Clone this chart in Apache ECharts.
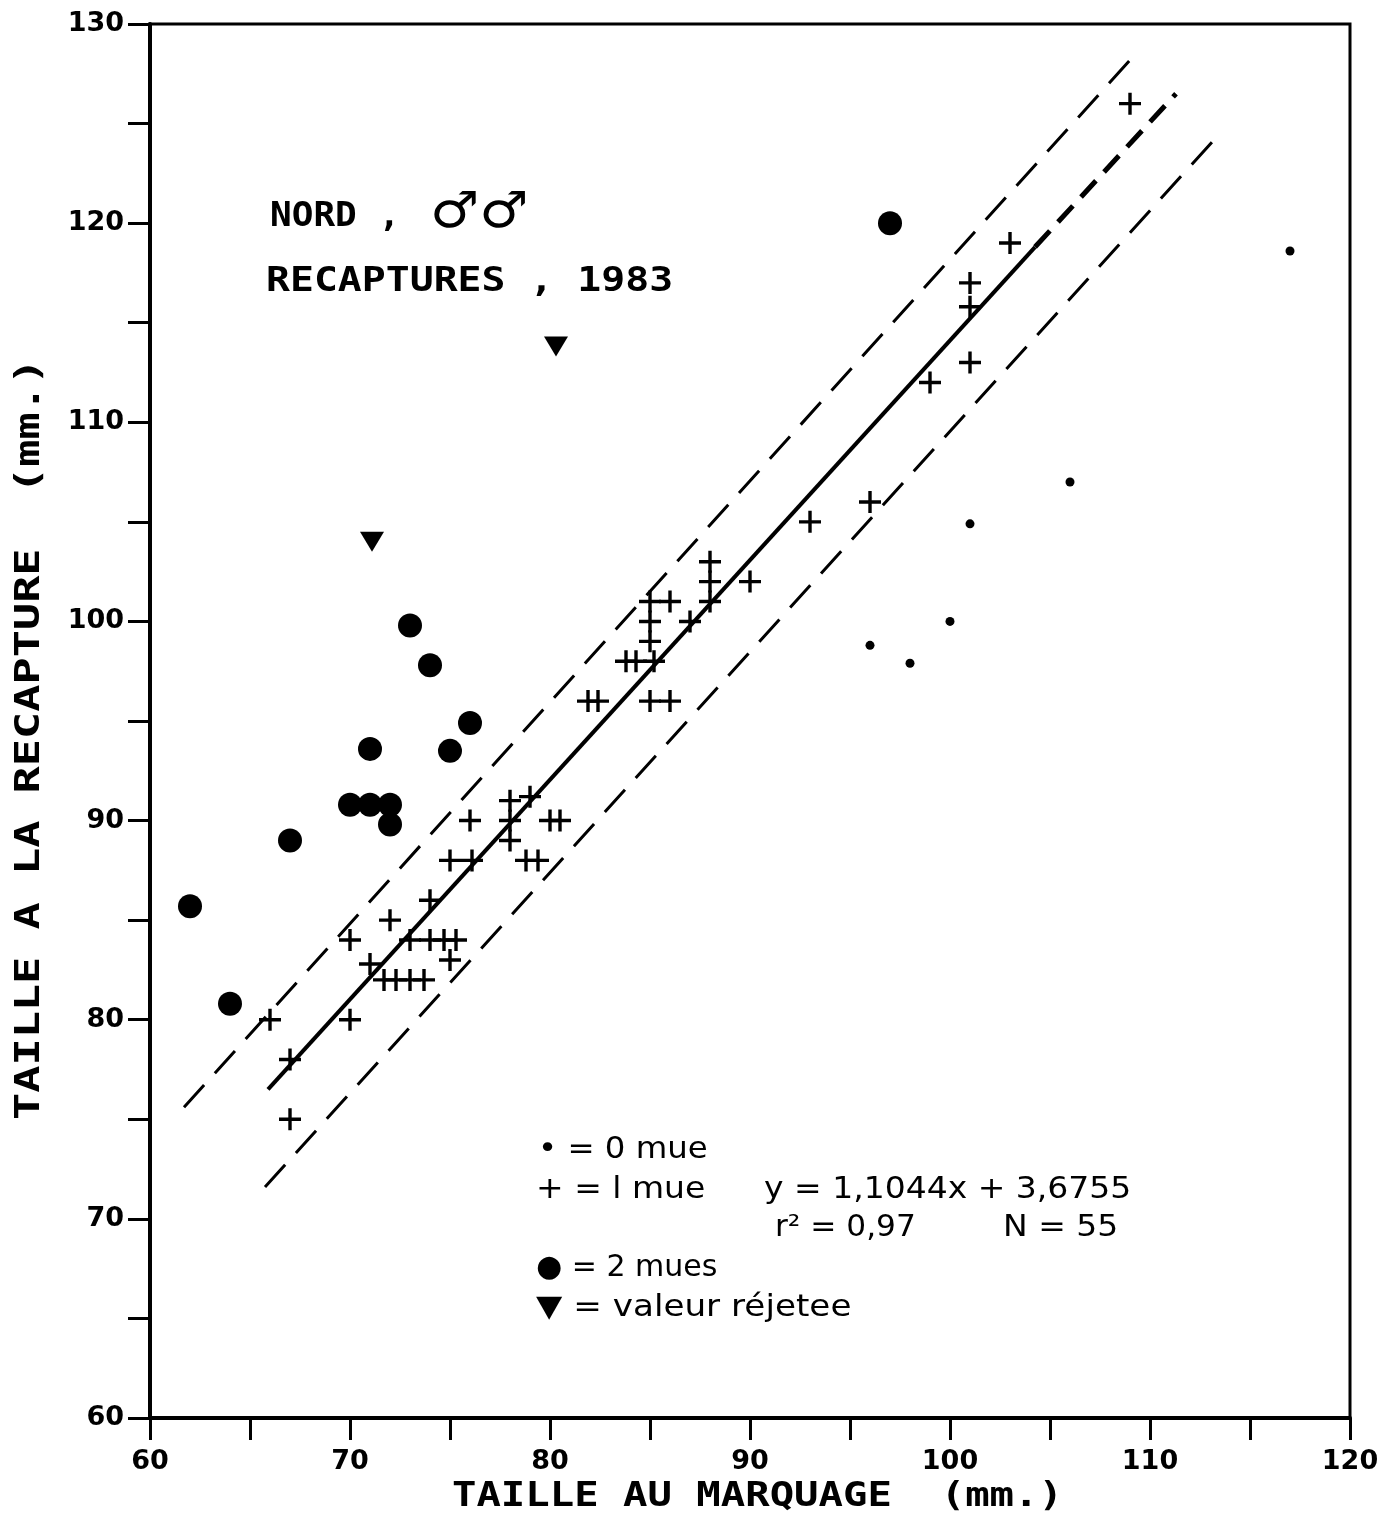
<!DOCTYPE html>
<html>
<head>
<meta charset="utf-8">
<script src="https://cdn.jsdelivr.net/npm/echarts@6/dist/echarts.min.js"></script>
<style>
html,body{margin:0;padding:0;background:#fff;}
#chart{width:1400px;height:1516px;}
</style>
</head>
<body>
<div id="chart"></div>
<script>
// ---- data ----
var xTickLabels = [60, 70, 80, 90, 100, 110, 120];
var yTickLabels = [60, 70, 80, 90, 100, 110, 120, 130];

var zeroMue = [[96, 98.8], [98, 97.9], [100, 100], [101, 104.9], [106, 107], [117, 118.6]];

var oneMue = [
  [109, 126], [103, 119], [101, 117], [101, 115.8], [101, 113], [99, 112], [96, 106], [93, 105],
  [88, 103], [88, 102], [90, 102], [86, 101], [85, 101], [88, 101], [87, 100], [85, 100], [85, 99],
  [83.8, 98], [84.3, 98], [85.2, 98], [81.9, 96], [82.4, 96], [85, 96], [86, 96],
  [78, 91], [79, 91.2], [76, 90], [78, 90], [80, 90], [80.5, 90], [78, 89],
  [75, 88], [76.1, 88], [78.8, 88], [79.4, 88],
  [74, 86], [72, 85], [70, 84], [73, 84], [74, 84], [74.7, 84], [75.3, 84], [75, 83], [71, 82.8],
  [71.7, 82], [72.3, 82], [73, 82], [73.7, 82],
  [66, 80], [70, 80], [67, 78], [67, 75]
];

var twoMues = [
  [62, 85.7], [64, 80.8], [67, 89], [70, 90.8], [71, 90.8], [72, 90.8], [72, 89.8],
  [71, 93.6], [75, 93.5], [76, 94.9], [73, 99.8], [74, 97.8], [97, 120]
];

var rejected = [[71.1, 104], [80.3, 113.8]];

var regressionSolid = [[65.9, 76.5], [104.25, 118.8]];
var regressionExt = [[104.25, 118.8], [111.3, 126.5]];
var upperBand = [[61.7, 75.6], [109.1, 128.3]];
var lowerBand = [[65.75, 71.6], [113.4, 124.4]];

// ---- chart ----
var FONT = 'DejaVu Sans';
var MONO = '"DejaVu Sans Mono", "DejaVu Sans"';
var plusPath = 'path://M0,9.3H22V12.7H0Z M9.3,0H12.7V22H9.3Z';
var triPath = 'path://M0,0L24,0L12,20Z';

var chart = echarts.init(document.getElementById('chart'), null, {renderer: 'canvas'});

function tickFmt(list) {
  return function (v) { return list.indexOf(v) >= 0 ? String(v) : ''; };
}

function label(text, x, y, font, sx, extra) {
  var el = {
    type: 'text', x: x, y: y, scaleX: sx, z: 100,
    style: {text: text, x: 0, y: 0, font: font, fill: '#000', align: 'left', verticalAlign: 'middle'}
  };
  if (extra) { for (var k in extra) { el[k] = extra[k]; } }
  return el;
}

var option = {
  backgroundColor: '#fff',
  animation: false,
  grid: {left: 150, top: 24, width: 1200, height: 1394, show: true, borderColor: '#000', borderWidth: 3, backgroundColor: 'transparent'},
  xAxis: {
    type: 'value', min: 60, max: 120, interval: 5,
    axisLine: {show: true, lineStyle: {color: '#000', width: 4}},
    axisTick: {show: true, inside: false, length: 22, lineStyle: {color: '#000', width: 3}},
    axisLabel: {formatter: tickFmt(xTickLabels), fontFamily: FONT, fontWeight: 'bold', fontSize: 27, color: '#000', margin: 30},
    splitLine: {show: false}
  },
  yAxis: {
    type: 'value', min: 60, max: 130, interval: 5,
    axisLine: {show: true, lineStyle: {color: '#000', width: 4}},
    axisTick: {show: true, inside: false, length: 22, lineStyle: {color: '#000', width: 3}},
    axisLabel: {formatter: tickFmt(yTickLabels), fontFamily: FONT, fontWeight: 'bold', fontSize: 27, color: '#000', margin: 26},
    splitLine: {show: false}
  },
  series: [
    {name: 'bande sup', type: 'line', data: upperBand, symbol: 'none', silent: true,
     lineStyle: {color: '#000', width: 3, type: [30, 16]}},
    {name: 'bande inf', type: 'line', data: lowerBand, symbol: 'none', silent: true,
     lineStyle: {color: '#000', width: 3, type: [30, 16]}},
    {name: 'regression', type: 'line', data: regressionSolid, symbol: 'none', silent: true,
     lineStyle: {color: '#000', width: 4}},
    {name: 'regression ext', type: 'line', data: regressionExt, symbol: 'none', silent: true,
     lineStyle: {color: '#000', width: 5, type: [22, 12]}},
    {name: '0 mue', type: 'scatter', data: zeroMue, symbol: 'circle', symbolSize: 9,
     itemStyle: {color: '#000', opacity: 1}},
    {name: '1 mue', type: 'scatter', data: oneMue, symbol: plusPath, symbolSize: 22,
     itemStyle: {color: '#000', opacity: 1}},
    {name: '2 mues', type: 'scatter', data: twoMues, symbol: 'circle', symbolSize: 24,
     itemStyle: {color: '#000', opacity: 1}},
    {name: 'valeur rejetee', type: 'scatter', data: rejected, symbol: triPath, symbolSize: [24, 20],
     itemStyle: {color: '#000', opacity: 1}}
  ],
  graphic: [
    // axis names
    label('TAILLE AU MARQUAGE  (mm.)', 452, 1497, 'bold 33px ' + MONO, 1.23),
    label('TAILLE A LA RECAPTURE  (mm.)', 30, 1120, 'bold 33px ' + MONO, 1.37, {rotation: Math.PI / 2}),
    // title block
    label('NORD ,', 270, 217, 'bold 34px ' + MONO, 1.06),
    label('♂♂', 430, 214, '50px "DejaVu Sans"', 1.1),
    label('RECAPTURES , 1983', 266, 282, 'bold 34px ' + MONO, 1.17),
    // key
    label('• = 0 mue', 538, 1150, '30px "DejaVu Sans"', 1.08),
    label('+ = l mue', 536, 1190, '30px "DejaVu Sans"', 1.1),
    label('y = 1,1044x + 3,6755', 764, 1190, '30px "DejaVu Sans"', 1.1),
    label('r² = 0,97', 775, 1228, '30px "DejaVu Sans"', 1.04),
    label('N = 55', 1003, 1228, '30px "DejaVu Sans"', 1.1),
    label('● = 2 mues', 536, 1268, '30px "DejaVu Sans"', 1.0),
    label('▼ = valeur réjetee', 536, 1308, '30px "DejaVu Sans"', 1.14)
  ]
};
chart.setOption(option);
</script>
</body>
</html>
